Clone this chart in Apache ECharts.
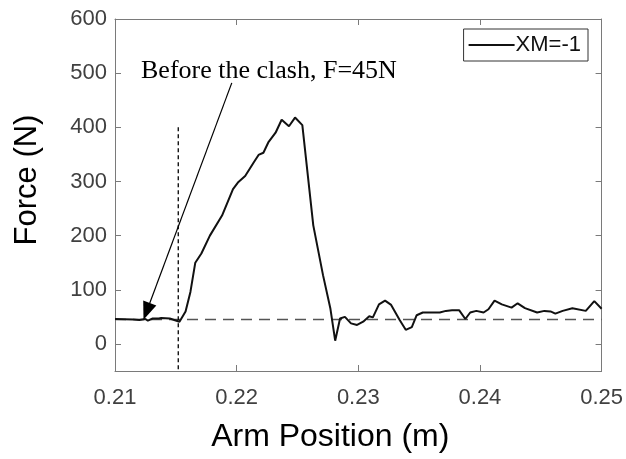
<!DOCTYPE html>
<html>
<head>
<meta charset="utf-8">
<script src="https://cdn.jsdelivr.net/npm/echarts@6/dist/echarts.min.js"></script>
<style>
  html, body { margin: 0; padding: 0; background: #fff; }
  #main { width: 626px; height: 459px; }
</style>
</head>
<body>
<div id="main"></div>
<script>
var armPos = [0.2100, 0.2115, 0.2120, 0.2125, 0.2127, 0.2131, 0.2136, 0.2138, 0.2145, 0.2153,
  0.2158, 0.2162, 0.2166, 0.2171, 0.2178, 0.2188, 0.2197, 0.2201, 0.2207, 0.2214,
  0.2218, 0.2222, 0.2226, 0.2232, 0.2237, 0.2243, 0.2248, 0.2254, 0.2263, 0.2271,
  0.2277, 0.2281, 0.2285, 0.2289, 0.2294, 0.2299, 0.2304, 0.2309, 0.2312, 0.2317,
  0.2322, 0.2327, 0.2334, 0.2339, 0.2344, 0.2348, 0.2353, 0.2367, 0.2372, 0.2377,
  0.2383, 0.2388, 0.2392, 0.2397, 0.2403, 0.2407, 0.2412, 0.2418, 0.2426, 0.2431,
  0.2437, 0.2447, 0.2453, 0.2458, 0.2462, 0.2468, 0.2476, 0.2487, 0.2494, 0.2500];
var force = [46, 45, 44, 46, 43, 47, 47, 48, 47, 41,
  60, 96, 150, 167, 200, 237, 286, 298, 310, 335,
  349, 353, 372, 390, 414, 402, 418, 404, 219, 127,
  66, 6, 47, 50, 38, 35, 41, 51, 49, 73,
  80, 72, 44, 26, 31, 53, 58, 58, 61, 62,
  62, 46, 58, 61, 58, 64, 80, 73, 67, 75,
  66, 58, 61, 60, 56, 61, 66, 61, 79, 65];

// reference level before the clash
var refX = [0.21, 0.25];
var refY = [45, 45];
// dotted marker where the clash starts
var clashX = [0.2152, 0.2152];
var clashY = [400, -50];
// annotation arrow: from text to the flat part
var arrowX = [0.2196, 0.2126];
var arrowY = [482, 60];

var yTicks = [0, 100, 200, 300, 400, 500, 600];
var seriesName = 'XM=-1';
var noteText = 'Before the clash, F=45N';

function zip(a, b) {
  var out = [];
  for (var i = 0; i < a.length; i++) out.push([a[i], b[i]]);
  return out;
}

var chart = echarts.init(document.getElementById('main'));
var axisGray = '#7a7a7a';
var labelGray = '#404040';

var option = {
  animation: false,
  grid: { left: 115, right: 24, top: 19, bottom: 88 },
  legend: {
    data: [{ name: seriesName, icon: 'rect' }],
    right: 38, top: 29,
    orient: 'vertical',
    backgroundColor: '#fff',
    borderColor: '#333', borderWidth: 1, borderRadius: 0,
    padding: [5, 7, 5, 5],
    itemWidth: 46, itemHeight: 2,
    textStyle: { fontFamily: 'Liberation Sans', fontSize: 22, color: '#111', padding: [0, 0, 0, -4] }
  },
  xAxis: [{
    type: 'value', min: 0.21, max: 0.25, interval: 0.01,
    name: 'Arm Position (m)', nameLocation: 'middle', nameGap: 50,
    nameTextStyle: { fontFamily: 'Liberation Sans', fontSize: 32, color: '#000', padding: [0, 56, 0, 0] },
    axisLine: { show: true, onZero: false, lineStyle: { color: axisGray, width: 1 } },
    axisTick: { show: true, inside: true, length: 6, lineStyle: { color: axisGray } },
    axisLabel: { margin: 16, fontFamily: 'Liberation Sans', fontSize: 22, color: labelGray,
      formatter: function (v) { return v.toFixed(2); } },
    splitLine: { show: false }
  }, {
    type: 'value', position: 'top', min: 0.21, max: 0.25, interval: 0.01,
    axisLine: { show: true, onZero: false, lineStyle: { color: axisGray, width: 1 } },
    axisTick: { show: true, inside: true, length: 6, lineStyle: { color: axisGray } },
    axisLabel: { show: false },
    splitLine: { show: false }
  }],
  yAxis: [{
    type: 'value', min: -50, max: 600,
    name: 'Force (N)', nameLocation: 'middle', nameGap: 72, nameRotate: 90,
    nameTextStyle: { fontFamily: 'Liberation Sans', fontSize: 31, color: '#000', padding: [0, 0, 0, 30] },
    axisLine: { show: true, onZero: false, lineStyle: { color: axisGray, width: 1 } },
    axisTick: { show: true, inside: true, length: 6, customValues: yTicks, lineStyle: { color: axisGray } },
    axisLabel: { margin: 8, fontFamily: 'Liberation Sans', fontSize: 22, color: labelGray, customValues: yTicks },
    splitLine: { show: false }
  }, {
    type: 'value', position: 'right', min: -50, max: 600,
    axisLine: { show: true, onZero: false, lineStyle: { color: axisGray, width: 1 } },
    axisTick: { show: true, inside: true, length: 6, customValues: yTicks, lineStyle: { color: axisGray } },
    axisLabel: { show: false },
    splitLine: { show: false }
  }],
  series: [{
    name: 'ref', type: 'line', symbol: 'none', silent: true,
    data: zip(refX, refY),
    lineStyle: { color: '#555', width: 1.5, type: [11, 7] },
    z: 1
  }, {
    name: 'clash', type: 'line', symbol: 'none', silent: true,
    data: zip(clashX, clashY),
    lineStyle: { color: '#000', width: 1.3, type: [4, 3] },
    z: 1
  }, {
    name: seriesName, type: 'line', symbol: 'none', showSymbol: false,
    data: zip(armPos, force),
    lineStyle: { color: '#111', width: 2 },
    itemStyle: { color: '#111' },
    z: 3,
    markLine: {
      silent: true, animation: false,
      symbol: ['none', 'triangle'], symbolSize: [14, 18],
      lineStyle: { color: '#000', width: 1.2, type: 'solid' },
      label: { show: false },
      data: [[{ coord: [arrowX[0], arrowY[0]] }, { coord: [arrowX[1], arrowY[1]] }]]
    }
  }],
  graphic: [{
    type: 'text', left: 141, top: 58,
    style: { text: noteText, font: '26px "Liberation Serif"', fill: '#000' }
  }]
};
chart.setOption(option);
</script>
</body>
</html>
